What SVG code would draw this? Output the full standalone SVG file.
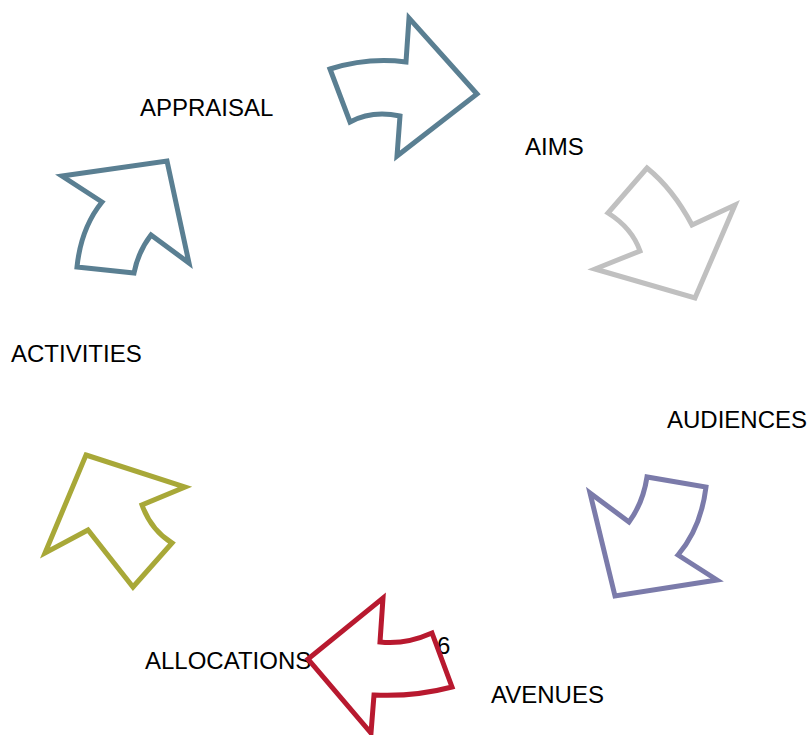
<svg xmlns="http://www.w3.org/2000/svg" width="811" height="735" viewBox="0 0 811 735">
<style>
text{font-family:"Liberation Sans",Arial,sans-serif;font-size:24px;fill:#000}
.a{fill:none;stroke-width:5;stroke-linejoin:miter}
</style>
<rect width="811" height="735" fill="#fff"/>
<g id="labels">
<text x="140" y="116">APPRAISAL</text>
<text x="525" y="155">AIMS</text>
<text x="667" y="428">AUDIENCES</text>
<text x="491" y="703">AVENUES</text>
<text x="145" y="669">ALLOCATIONS</text>
<text x="11" y="362">ACTIVITIES</text>
<text x="437" y="654">6</text>
</g>
<g id="connectors">
<path id="arrow1" class="a" stroke="#5a7f92" d="M330,69 Q368,57 406,62 L409,18 L477,94 L397,156 L400,116 Q372,110 350,122 Z"/>
<path id="arrow2" class="a" stroke="#c0c0c0" d="M647,168 Q673,189 692,225 L735,205 L695,298 L595,269 L640,251 Q632,228 608,213 Z"/>
<path id="arrow3" class="a" stroke="#7b7baa" d="M590,493 L629,522 Q643,503 647,477 L706,487 Q701,528 678,555 L717,580 L615,596 Z"/>
<path id="arrow4" class="a" stroke="#b8192f" d="M383,598 L380,642 Q405,645 432,633 L452,687 Q414,697 374,695 L371,733 L308,659 Z"/>
<path id="arrow5" class="a" stroke="#a8a838" d="M86,455 L185,487 L142,505 Q151,530 172,543 L133,587 Q106,553 88,530 L45,553 Z"/>
<path id="arrow6" class="a" stroke="#5a7f92" d="M62,176 L167,161 L189,263 L151,235 Q138,252 134,273 L77,267 Q81,228 102,202 Z"/>
</g>
</svg>
